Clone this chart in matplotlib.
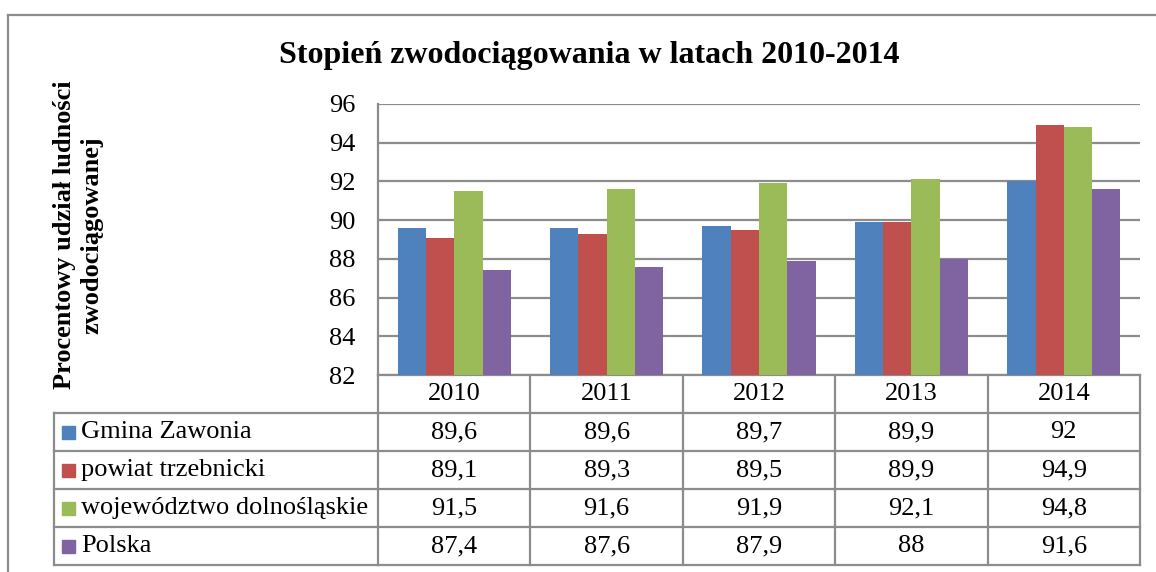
import matplotlib
matplotlib.use("Agg")
import matplotlib.pyplot as plt
import matplotlib.transforms as mtransforms
from matplotlib.lines import Line2D
from matplotlib.patches import Rectangle
import numpy as np

years = ["2010", "2011", "2012", "2013", "2014"]
series_names = ["Gmina Zawonia", "powiat trzebnicki", "województwo dolnośląskie", "Polska"]
gmina = [89.6, 89.6, 89.7, 89.9, 92]
powiat = [89.1, 89.3, 89.5, 89.9, 94.9]
wojewodztwo = [91.5, 91.6, 91.9, 92.1, 94.8]
polska = [87.4, 87.6, 87.9, 88, 91.6]
yticks = [82, 84, 86, 88, 90, 92, 94, 96]
colors = ["#4F81BD", "#C0504D", "#9BBB59", "#8064A2"]
series = [gmina, powiat, wojewodztwo, polska]

W, H = 1156, 572
plt.rcParams['font.family'] = ['Liberation Serif', 'DejaVu Serif']
fig = plt.figure(figsize=(W / 100, H / 100), dpi=100)

# plot area in pixels
L, R, T, B = 378, 1140, 104, 375
ax = fig.add_axes([L / W, 1 - B / H, (R - L) / W, (B - T) / H])
ax.set_xlim(-0.5, len(years) - 0.5)
ax.set_ylim(82, 96)

grid_c = "#8C8C8C"
bw = 28.3 / ((R - L) / len(years))
x = np.arange(len(years))
for k, (vals, c) in enumerate(zip(series, colors)):
    ax.bar(x + (k - 1.5) * bw, np.array(vals) - 82, bottom=82, width=bw, color=c,
           edgecolor="none", zorder=3)

ax.set_yticks(yticks)
ax.set_yticklabels([str(t) for t in yticks], fontsize=19)
ax.tick_params(axis='y', length=0, pad=16)
ax.set_xticks([])
ax.yaxis.grid(True, color=grid_c, linewidth=1.6, zorder=1)
for s in ["top", "right", "bottom"]:
    ax.spines[s].set_visible(False)
ax.spines["left"].set_color(grid_c)
ax.spines["left"].set_linewidth(1.6)

# table drawn below the axes, rows in pixel heights converted to axes units
ph = B - T
row_h = 38.0 / ph
nrows = len(series) + 1
trans = mtransforms.blended_transform_factory(ax.transData, ax.transAxes)
lw = 1.6
ybot = -nrows * row_h
for i in range(len(years) + 1):
    xe = i - 0.5
    ax.add_line(Line2D([xe, xe], [0, ybot], transform=trans, color=grid_c, lw=lw, clip_on=False))
for r in range(nrows + 1):
    y = -r * row_h
    ax.add_line(Line2D([-0.5, len(years) - 0.5], [y, y], transform=trans, color=grid_c, lw=lw, clip_on=False))
for i, yr in enumerate(years):
    ax.text(i, -0.5 * row_h, yr, transform=trans, ha="center", va="center", fontsize=19, clip_on=False)
for r, vals in enumerate(series):
    yc = -(r + 1.5) * row_h
    for i, v in enumerate(vals):
        s = ("%g" % v).replace(".", ",")
        ax.text(i, yc, s, transform=trans, ha="center", va="center", fontsize=19, clip_on=False)

# legend column
leg_left = (54 - L) / (R - L)
for r in range(len(series) + 1):
    y = -(r + 1) * row_h
    ax.add_line(Line2D([leg_left, 0], [y, y], transform=ax.transAxes, color=grid_c, lw=lw, clip_on=False))
ax.add_line(Line2D([leg_left, leg_left], [-row_h, ybot], transform=ax.transAxes, color=grid_c, lw=lw, clip_on=False))
sq_w = 13.0 / (R - L)
sq_h = 13.0 / ph
for r, (name, c) in enumerate(zip(series_names, colors)):
    yc = -(r + 1.5) * row_h
    ax.add_patch(Rectangle((leg_left + 8.0 / (R - L), yc - sq_h / 2), sq_w, sq_h, transform=ax.transAxes,
                           color=c, clip_on=False))
    ax.text(leg_left + 27.0 / (R - L), yc, name, transform=ax.transAxes, ha="left", va="center",
            fontsize=19, clip_on=False)

# title and y label
fig.text(589 / W, 1 - 55 / H, "Stopień zwodociągowania w latach 2010-2014", ha="center", va="center",
         fontsize=23, fontweight="bold")
fig.text(78 / W, 1 - 235 / H, "Procentowy udział ludności\nzwodociągowanej", ha="center", va="center",
         rotation=90, fontsize=19, fontweight="bold", linespacing=1.25)

# outer chart border
fig.add_artist(Line2D([8 / W, 1], [1 - 15 / H, 1 - 15 / H], transform=fig.transFigure, color="#8C8C8C", lw=1.6))
fig.add_artist(Line2D([8 / W, 8 / W], [1 - 15 / H, 0], transform=fig.transFigure, color="#8C8C8C", lw=1.6))

fig.savefig("out.png", dpi=100)
